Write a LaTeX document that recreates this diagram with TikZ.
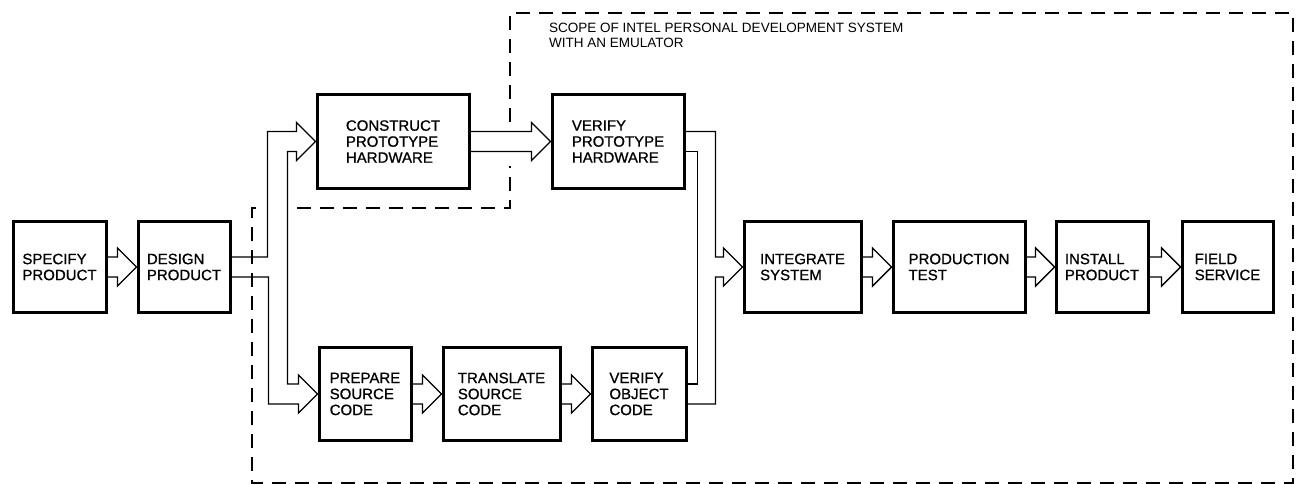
\documentclass[tikz,border=0pt]{standalone}
\usepackage{fontspec}
\setmainfont{Liberation Sans}
\newfontfamily\boxfont[FakeBold=0.9]{Liberation Sans}
\usetikzlibrary{calc}

\begin{document}
\begin{tikzpicture}[
  x=1pt, y=-1pt,
  blk/.style={draw, line width=3pt, align=left, minimum height=91pt,
    font={\boxfont\fontsize{15}{16}\selectfont}},
  pipe/.style={line width=1.4pt, line join=miter},
  scopeB/.style={line width=1.8pt, dash pattern=on 14pt off 9pt}
]
\useasboundingbox (0,0) rectangle (1296,484);

% --- scope of the development system ---
\draw[scopeB] (510,122) -- (510,13) -- (1293,13) -- (1293,483) -- (252,483)
  -- (252,208) -- (262,208);
\draw[scopeB] (297,208) -- (510,208) -- (510,166);
\node[anchor=base west, inner sep=0, align=left,
  font={\fontsize{13.5}{15}\selectfont}] (scope) at (549,48)
  {SCOPE OF INTEL PERSONAL DEVELOPMENT SYSTEM\\WITH AN EMULATOR};

% --- boxes ---
\node[blk, minimum width=93pt] (spec)   at (59.5,267)  {SPECIFY\\PRODUCT};
\node[blk, minimum width=92pt] (design) at (184,267)   {DESIGN\\PRODUCT};
\node[blk, minimum width=152pt, minimum height=94pt] (cons) at (393,141.5) {CONSTRUCT\\PROTOTYPE\\HARDWARE};
\node[blk, minimum width=132pt, minimum height=93pt] (verP) at (618,141.5) {VERIFY\\PROTOTYPE\\HARDWARE};
\node[blk, minimum width=92pt, minimum height=93pt]  (prep)  at (365,394)   {PREPARE\\SOURCE\\CODE};
\node[blk, minimum width=117pt, minimum height=93pt] (trans) at (501.5,394) {TRANSLATE\\SOURCE\\CODE};
\node[blk, minimum width=94pt, minimum height=93pt]  (verO)  at (639,394)   {VERIFY\\OBJECT\\CODE};
\node[blk, minimum width=117pt] (integ) at (802.5,267) {INTEGRATE\\SYSTEM};
\node[blk, minimum width=132pt] (prod)  at (959,267)   {PRODUCTION\\TEST};
\node[blk, minimum width=92pt]  (inst)  at (1102,267)  {INSTALL\\PRODUCT};
\node[blk, minimum width=91pt]  (field) at (1227.5,267) {FIELD\\SERVICE};

% --- straight open arrows ---
\foreach \a/\b in {spec/design, cons/verP, prep/trans, trans/verO,
                   integ/prod, prod/inst, inst/field}
  \draw[pipe] ($(\a.east)+(0,-10)$) -- ($(\b.west)+(-19,-10)$) -- ++(0,-9)
    -- (\b.west) -- ++(-19,19) -- ++(0,-9) -- ($(\a.east)+(0,10)$);

% --- split after design ---
\draw[pipe] ($(design.east)+(0,-10)$) -| ($(cons.west)+(-48,-10)$)
  -- ($(cons.west)+(-19,-10)$) -- ++(0,-9) -- (cons.west) -- ++(-19,19) -- ++(0,-9)
  -| ($(prep.west)+(-30,-10)$)
  -- ($(prep.west)+(-19,-10)$) -- ++(0,-9) -- (prep.west) -- ++(-19,19) -- ++(0,-9)
  -| ($(design.east)+(37,10)$) -- ($(design.east)+(0,10)$);

% --- merge into integrate ---
\draw[pipe] ($(verP.east)+(0,-10)$) -| ($(integ.west)+(-27,-10)$)
  -- ($(integ.west)+(-19,-10)$) -- ++(0,-9) -- (integ.west) -- ++(-19,19) -- ++(0,-9)
  -- ++(-8,0) |- ($(verO.east)+(0,10)$);
\draw[pipe] ($(verP.east)+(0,10)$) -| ($(verO.east)+(10,-10)$) -- ($(verO.east)+(0,-10)$);

\end{tikzpicture}
\end{document}
